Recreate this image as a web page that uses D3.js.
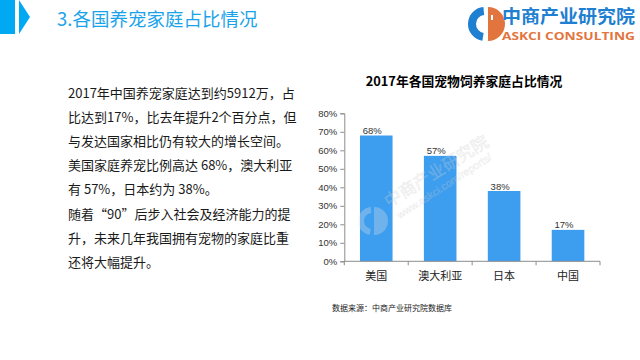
<!DOCTYPE html>
<html><head><meta charset="utf-8">
<script src="https://cdn.jsdelivr.net/npm/d3@7"></script>
<style>body{margin:0;background:#fff;}svg{display:block;}</style>
</head><body>
<script>
const categories = ["美国", "澳大利亚", "日本", "中国"];
const values = [68, 57, 38, 17];
const valueLabels = ["68%", "57%", "38%", "17%"];
const yTicks = [0, 10, 20, 30, 40, 50, 60, 70, 80];
const chartTitle = "2017年各国宠物饲养家庭占比情况";
const pageTitle = "3.各国养宠家庭占比情况";
const sourceText = "数据来源：中商产业研究院数据库";
const paragraph = [
  "2017年中国养宠家庭达到约5912万，占",
  "比达到17%，比去年提升2个百分点，但",
  "与发达国家相比仍有较大的增长空间。",
  "美国家庭养宠比例高达 68%，澳大利亚",
  "有 57%，日本约为 38%。",
  "随着“90”后步入社会及经济能力的提",
  "升，未来几年我国拥有宠物的家庭比重",
  "还将大幅提升。"
];

const W = 640, H = 360;
const svg = d3.select("body").append("svg").attr("width", W).attr("height", H);
const cjk = "'Noto Sans CJK SC', 'Noto Sans', sans-serif";

// header
svg.append("rect").attr("x", 0).attr("y", 0).attr("width", 15).attr("height", 34).attr("fill", "#00a9f2");
svg.append("path").attr("d", "M19,0 L30,17 L19,34 Z").attr("fill", "#00a9f2");
svg.append("text").attr("x", 57).attr("y", 26).attr("font-family", cjk).attr("font-size", 18.5)
  .attr("fill", "#1ba3e9").text(pageTitle);

// logo
const lg = svg.append("g").attr("transform", "translate(485,24)");
lg.append("path").attr("d", d3.arc()({innerRadius: 9, outerRadius: 17, startAngle: Math.PI * 1.05, endAngle: Math.PI * 1.97}))
  .attr("fill", "#1f7fd0");
lg.append("path").attr("d", "M3,-17 A17,17 0 0 1 3,17 Z").attr("fill", "#e2753d");
lg.append("rect").attr("x", 6).attr("y", -9).attr("width", 2).attr("height", 5).attr("fill", "#fff");
svg.append("text").attr("x", 502).attr("y", 23).attr("font-family", cjk).attr("font-weight", "bold")
  .attr("font-size", 18).attr("fill", "#1f7fd0").attr("textLength", 133).attr("lengthAdjust", "spacingAndGlyphs").text("中商产业研究院");
svg.append("text").attr("x", 502).attr("y", 40).attr("font-family", "'Open Sans', 'Noto Sans', sans-serif").attr("font-weight", "bold")
  .attr("font-size", 11).attr("fill", "#e2753d").attr("textLength", 133).attr("lengthAdjust", "spacingAndGlyphs").text("ASKCI CONSULTING");

// paragraph
svg.append("g").selectAll("text").data(paragraph).join("text")
  .attr("x", 68).attr("y", (d, i) => 98 + i * 24.1)
  .attr("font-family", cjk).attr("font-size", 13).attr("fill", "#1a1a1a").text(d => d);

// chart
const x = d3.scaleBand().domain(categories).range([344.3, 600]).paddingInner(0.49).paddingOuter(0.245);
const y = d3.scaleLinear().domain([0, 80]).range([261.3, 113.3]);

svg.append("text").attr("x", 464).attr("y", 86).attr("text-anchor", "middle")
  .attr("font-family", cjk).attr("font-weight", "bold").attr("font-size", 12.8).attr("fill", "#000").text(chartTitle);

const bars = svg.append("g");
bars.selectAll("rect").data(values).join("rect")
  .attr("x", (d, i) => x(categories[i])).attr("width", x.bandwidth())
  .attr("y", d => y(d)).attr("height", d => y(0) - y(d)).attr("fill", "#3d9ef0");

// y axis
const yAxis = svg.append("g").attr("transform", "translate(344.3,0)")
  .call(d3.axisLeft(y).tickValues(yTicks).tickFormat(d => d + "%").tickSize(4).tickPadding(3));
yAxis.select(".domain").attr("stroke", "#8c8c8c");
yAxis.selectAll(".tick line").attr("stroke", "#8c8c8c");
yAxis.selectAll(".tick text").attr("font-family", "'Liberation Sans', Arial, sans-serif").attr("font-size", 9.5).attr("fill", "#333");

// x axis
const xb = svg.append("g").attr("transform", "translate(0,261.3)");
xb.append("line").attr("x1", 344.3).attr("x2", 600).attr("stroke", "#8c8c8c");
const step = x.step();
const bounds = [x.range()[0]].concat(categories.map(c => x(c) - x.paddingInner() * step / 2 + step));
xb.selectAll("line.t").data(bounds).join("line").attr("class", "t")
  .attr("x1", d => d).attr("x2", d => d).attr("y1", 0).attr("y2", 4).attr("stroke", "#8c8c8c");
xb.selectAll("text").data(categories).join("text")
  .attr("x", d => x(d) + x.bandwidth() / 2).attr("y", 18.5).attr("text-anchor", "middle")
  .attr("font-family", cjk).attr("font-size", 11).attr("fill", "#222").text(d => d);

// value labels
svg.append("g").selectAll("text").data(values).join("text")
  .attr("x", (d, i) => x(categories[i]) + x.bandwidth() / 2 - 4).attr("y", d => y(d) - 1.5)
  .attr("text-anchor", "middle").attr("font-family", "'Liberation Sans', Arial, sans-serif")
  .attr("font-size", 9.5).attr("fill", "#333").text((d, i) => valueLabels[i]);

// watermark
const wm = svg.append("g").attr("opacity", 0.3);
const wl = wm.append("g").attr("transform", "translate(372,221)");
wl.append("path").attr("d", d3.arc()({innerRadius: 8, outerRadius: 14, startAngle: Math.PI * 1.05, endAngle: Math.PI * 1.97})).attr("fill", "#e6e6e6");
wl.append("path").attr("d", "M2,-14 A14,14 0 0 1 2,14 Z").attr("fill", "#e6e6e6");
wm.append("text").attr("transform", "translate(389,208) rotate(-32)").attr("font-family", cjk)
  .attr("font-size", 17).attr("fill", "#e6e6e6").attr("stroke", "#b0b0b0").attr("stroke-width", 0.4).text("中商产业研究院");
wm.append("text").attr("transform", "translate(400,219) rotate(-33)").attr("font-family", "'Liberation Sans', sans-serif")
  .attr("font-size", 10.5).attr("fill", "#e6e6e6").attr("stroke", "#b0b0b0").attr("stroke-width", 0.3).text("www.askci.com/reports/");

// source
svg.append("text").attr("x", 332).attr("y", 311).attr("font-family", cjk).attr("font-size", 8)
  .attr("fill", "#222").text(sourceText);
</script>
</body></html>
